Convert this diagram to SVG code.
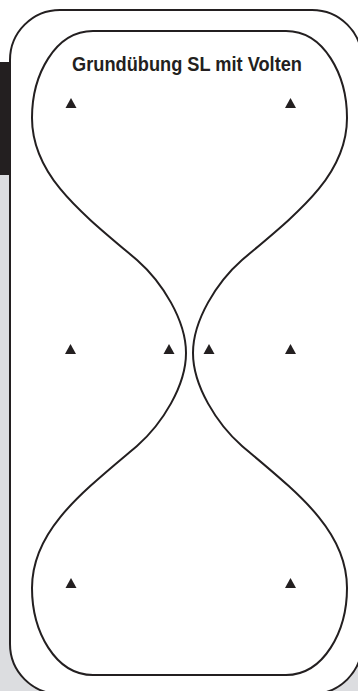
<svg xmlns="http://www.w3.org/2000/svg" width="358" height="691" viewBox="0 0 358 691">
<style>
.ln{fill:none;stroke:#231f20;stroke-width:2}
.tri{fill:#231f20}
.title{font-family:"Liberation Sans Narrow","Liberation Sans",Arial,sans-serif;font-weight:bold;font-size:20px;fill:#231f20}
</style>
<defs>
<polygon id="cone" points="-5.5,5 5.5,5 0,-5"/>
</defs>
<g id="background">
<rect x="0" y="0" width="358" height="691" fill="#ffffff"/>
<rect x="0" y="175" width="358" height="516" fill="#dcdde0"/>
<rect x="0" y="62" width="11" height="113" fill="#231f20"/>
</g>
<g id="frame">
<rect x="10" y="10" width="352" height="684" rx="50" ry="50" fill="#ffffff" stroke="#231f20" stroke-width="2"/>
</g>
<g id="connectors">
<path class="ln" d="M93,31 H286 C324,31 347,75 347,118 C347,175 299,212 242,260 C217,282 193,320 193,353 C193,386 217,424 242,446 C299,494 347,531 347,588 C347,631 324,675 286,675 H93 C55,675 32,631 32,588 C32,531 80,494 137,446 C162,424 186,386 186,353 C186,320 162,282 137,260 C80,212 32,175 32,118 C32,75 55,31 93,31 Z"/>
</g>
<g id="title">
<text class="title" x="72" y="71" textLength="230" lengthAdjust="spacingAndGlyphs">Grundübung SL mit Volten</text>
</g>
<g id="cone-top-left"><use href="#cone" class="tri" x="71" y="103"/></g>
<g id="cone-top-right"><use href="#cone" class="tri" x="290.5" y="103"/></g>
<g id="cone-mid-left"><use href="#cone" class="tri" x="70.5" y="349"/></g>
<g id="cone-mid-inner-left"><use href="#cone" class="tri" x="169" y="349"/></g>
<g id="cone-mid-inner-right"><use href="#cone" class="tri" x="209" y="349"/></g>
<g id="cone-mid-right"><use href="#cone" class="tri" x="290.5" y="349"/></g>
<g id="cone-bottom-left"><use href="#cone" class="tri" x="71" y="583"/></g>
<g id="cone-bottom-right"><use href="#cone" class="tri" x="290.5" y="583"/></g>
</svg>
